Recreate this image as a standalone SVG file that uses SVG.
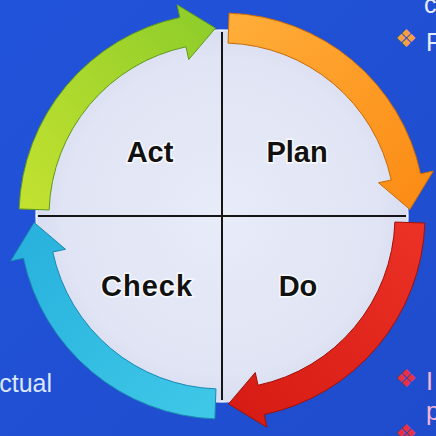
<svg xmlns="http://www.w3.org/2000/svg" width="436" height="436" viewBox="0 0 436 436">
<defs>
<linearGradient id="bg" x1="0" y1="0" x2="1" y2="1">
<stop offset="0" stop-color="#2153da"/>
<stop offset="1" stop-color="#1f4ccc"/>
</linearGradient>
<radialGradient id="disc" cx="0.5" cy="0.5" r="0.5">
<stop offset="0" stop-color="#e8ebf8"/>
<stop offset="0.85" stop-color="#e0e4f4"/>
<stop offset="1" stop-color="#d8ddf1"/>
</radialGradient>
<linearGradient id="gOrange" x1="0" y1="0" x2="1" y2="1">
<stop offset="0" stop-color="#ffae3a"/>
<stop offset="1" stop-color="#fb8a12"/>
</linearGradient>
<linearGradient id="gRed" x1="0" y1="0" x2="1" y2="1">
<stop offset="0" stop-color="#ec3226"/>
<stop offset="1" stop-color="#d41a12"/>
</linearGradient>
<linearGradient id="gCyan" x1="0" y1="0" x2="1" y2="1">
<stop offset="0" stop-color="#40c8e8"/>
<stop offset="1" stop-color="#26b0dc"/>
</linearGradient>
<linearGradient id="gGreen" x1="0" y1="0" x2="1" y2="1">
<stop offset="0" stop-color="#c4e230"/>
<stop offset="1" stop-color="#8ccc2a"/>
</linearGradient>
<path id="arrow" d="M229.08,13.12 A203,203 0 0 1 420.56,173.79 L433.28,171.09 L409.89,209.44 L378.50,182.73 L391.22,180.03 A173,173 0 0 0 228.04,43.11 Z"/>
</defs>
<style>
.lbl{font-family:"Liberation Sans",Arial,sans-serif;font-weight:bold;font-size:29px;fill:#111;text-anchor:middle;stroke:#ffffff;stroke-width:3;stroke-opacity:0.8;paint-order:stroke;}
.side{font-family:"Liberation Sans",Arial,sans-serif;font-size:25px;}
.axis{stroke:#151515;stroke-width:2;}
</style>
<rect width="436" height="436" fill="url(#bg)"/>
<circle cx="222" cy="216" r="186" fill="url(#disc)" stroke="#ffffff" stroke-opacity="0.6" stroke-width="2"/>
<g id="axes">
<line class="axis" x1="222" y1="32" x2="222" y2="400"/>
<line class="axis" x1="38" y1="216" x2="406" y2="216"/>
</g>
<g id="connectors">
<use href="#arrow" fill="url(#gOrange)" stroke="#c96a06" stroke-width="1"/>
<use href="#arrow" fill="url(#gRed)" stroke="#a01008" stroke-width="1" transform="rotate(90 222 216)"/>
<use href="#arrow" fill="url(#gCyan)" stroke="#1a88b0" stroke-width="1" transform="rotate(180 222 216)"/>
<use href="#arrow" fill="url(#gGreen)" stroke="#5e9a1c" stroke-width="1" transform="rotate(270 222 216)"/>
</g>
<g id="node-act"><text class="lbl" x="150" y="162">Act</text></g>
<g id="node-plan"><text class="lbl" x="297" y="162">Plan</text></g>
<g id="node-check"><text class="lbl" x="147" y="296" letter-spacing="1">Check</text></g>
<g id="node-do"><text class="lbl" x="298" y="296">Do</text></g>
<g id="side-text">
<text class="side" x="424" y="13" fill="#e8ecff">c</text>
<text class="side" x="406" y="47" font-size="16" fill="#f4a040" text-anchor="middle">❖</text>
<text class="side" x="426" y="51" fill="#e8ecff">P</text>
<text class="side" x="406" y="387" font-size="16" fill="#e83040" text-anchor="middle">❖</text>
<text class="side" x="426" y="390" fill="#f6b6d6">I</text>
<text class="side" x="426" y="420" fill="#f6b6d6">p</text>
<text class="side" x="406" y="442" font-size="16" fill="#e83040" text-anchor="middle">❖</text>
<text class="side" x="52" y="392" fill="#dce6ff" text-anchor="end">ctual</text>
</g>
</svg>
